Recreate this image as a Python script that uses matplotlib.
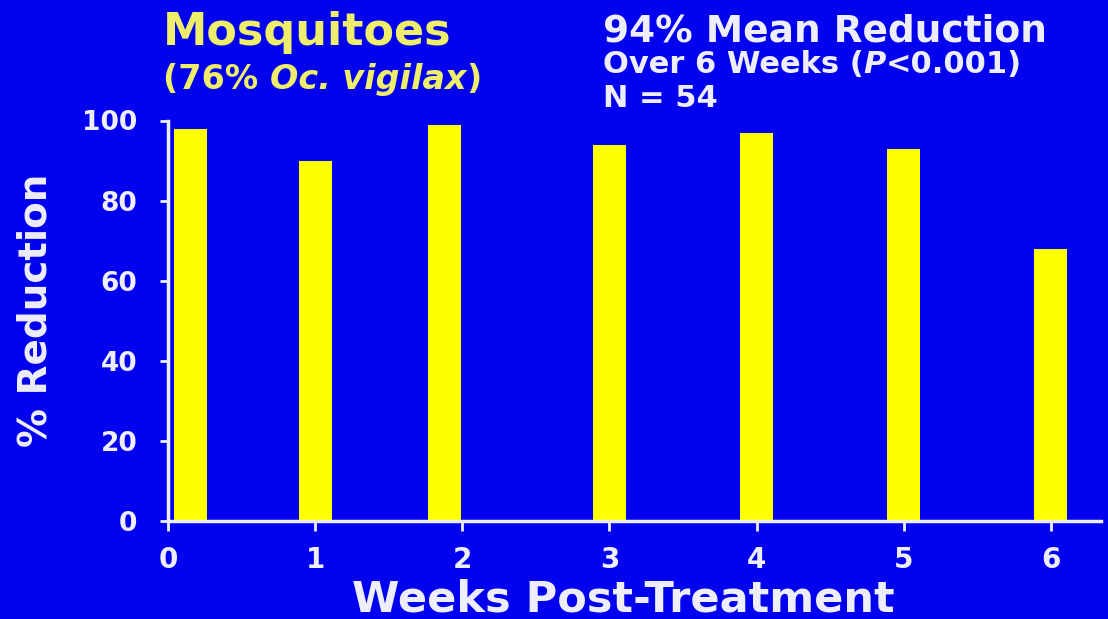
import numpy as np
import matplotlib
matplotlib.use("Agg")
import matplotlib.pyplot as plt

weeks = [0, 1, 2, 3, 4, 5, 6]
bar_x = [0.15, 1.0, 1.88, 3.0, 4.0, 5.0, 6.0]
reduction = [98, 90, 99, 94, 97, 93, 68]
yticks = [0, 20, 40, 60, 80, 100]

BG = "#0202ee"
WHITE = "#eeeefa"
BAR = "#ffff00"
TITLE = "#eeee6a"

plt.rcParams["font.family"] = "DejaVu Sans"
plt.rcParams["font.weight"] = "bold"

W, H = 1108, 619
fig = plt.figure(figsize=(W / 100, H / 100), dpi=100, facecolor=BG)
ax = fig.add_axes([168 / W, 1 - 521 / H, (1101 - 168) / W, (521 - 120.5) / H])
ax.set_facecolor(BG)

ax.bar(bar_x, reduction, width=0.224, color=BAR, edgecolor="none", zorder=1)

ax.set_xlim(0, 6.34)
ax.set_ylim(0, 100)
ax.set_xticks(weeks)
ax.set_xticklabels([str(w) for w in weeks])
ax.set_yticks(yticks)

for s in ["top", "right"]:
    ax.spines[s].set_visible(False)
for s in ["left", "bottom"]:
    ax.spines[s].set_color(WHITE)
    ax.spines[s].set_linewidth(2.5)
    ax.spines[s].set_zorder(3)

ax.tick_params(axis="y", colors=WHITE, labelsize=19, length=6, width=2, pad=16)
ax.tick_params(axis="x", colors=WHITE, labelsize=20, length=7, width=2, pad=11)


def px(x, y):
    return x / W, 1 - y / H


renderer = fig.canvas.get_renderer()


def chain(x, y, pieces, color, size):
    # pieces: list of (text, style); placed one after another on one baseline
    for txt, style in pieces:
        t = fig.text(*px(x, y), txt, color=color, fontsize=size, style=style, va="baseline")
        bb = t.get_window_extent(renderer)
        x += bb.width


fig.text(*px(163, 45), "Mosquitoes", color=TITLE, fontsize=32, va="baseline")
chain(163, 89, [("(76% ", "normal"), ("Oc. vigilax", "italic"), (")", "normal")], TITLE, 24)

fig.text(*px(603, 42), "94% Mean Reduction", color=WHITE, fontsize=27, va="baseline")
chain(603, 73, [("Over 6 Weeks (", "normal"), ("P", "italic"), ("<0.001)", "normal")], WHITE, 22)
fig.text(*px(603, 107), "N = 54", color=WHITE, fontsize=22, va="baseline")

fig.text(*px(623, 612), "Weeks Post-Treatment", color=WHITE, fontsize=31, ha="center", va="baseline")
fig.text(*px(36, 310), "% Reduction", color=WHITE, fontsize=28, rotation=90, ha="center", va="center")

fig.savefig("out.png", dpi=100, facecolor=BG)
